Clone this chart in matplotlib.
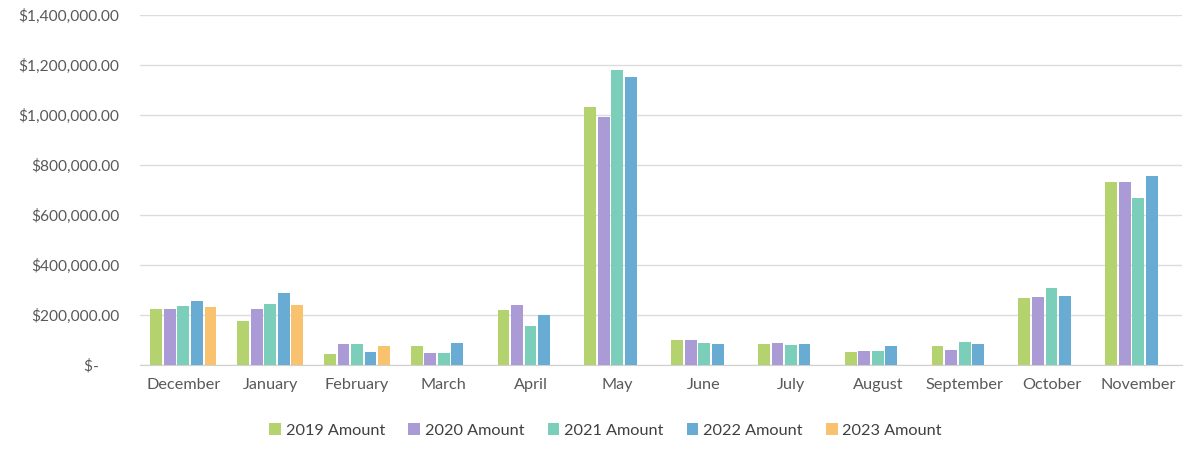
import numpy as np
import matplotlib
matplotlib.use("Agg")
import matplotlib.pyplot as plt
from matplotlib.ticker import FuncFormatter

months = ["December", "January", "February", "March", "April", "May",
          "June", "July", "August", "September", "October", "November"]

# values (estimates)
amt_2019 = [223000, 176000, 45000, 78000, 220000, 1030000, 102000, 83000, 52000, 75000, 270000, 730000]
amt_2020 = [223000, 223000, 86000, 47000, 240000, 990000, 102000, 90000, 57000, 61000, 273000, 730000]
amt_2021 = [237000, 243000, 86000, 47000, 156000, 1178000, 87000, 80000, 57000, 91000, 310000, 668000]
amt_2022 = [257000, 287000, 54000, 90000, 200000, 1152000, 84000, 83000, 75000, 86000, 275000, 757000]
amt_2023 = [234000, 239000, 77000, np.nan, np.nan, np.nan, np.nan, np.nan, np.nan, np.nan, np.nan, np.nan]

series = [("2019 Amount", amt_2019, "#b4d36e"),
          ("2020 Amount", amt_2020, "#aa9bd7"),
          ("2021 Amount", amt_2021, "#7bceb9"),
          ("2022 Amount", amt_2022, "#68acd3"),
          ("2023 Amount", amt_2023, "#f9c26e")]

plt.rcParams['font.family'] = ['Lato', 'DejaVu Sans']

fig = plt.figure(figsize=(11.96, 4.54), dpi=100)
ax = fig.add_axes([0.117, 0.196, 0.871, 0.771])

x = np.arange(len(months))
slot = 0.156
width = 0.136
for i, (name, vals, col) in enumerate(series):
    ax.bar(x + (i - 2) * slot, vals, width, color=col, label=name, zorder=3)

ax.set_ylim(0, 1400000)
ax.set_xlim(-0.5, len(months) - 0.5)
ax.set_yticks(np.arange(0, 1400001, 200000))

def money(v, pos):
    if v == 0:
        return "$-     "
    return "${:,.2f}".format(v)

ax.yaxis.set_major_formatter(FuncFormatter(money))
ax.set_xticks(x)
ax.set_xticklabels(months)
ax.tick_params(axis='both', length=0, colors='#595959', labelsize=11.7)
ax.tick_params(axis='x', pad=9)
ax.tick_params(axis='y', pad=15)
for lbl in ax.get_yticklabels():
    lbl.set_fontsize(11.2)

ax.grid(axis='y', color='#dcdcdc', linewidth=1, zorder=0)
for s in ['top', 'right', 'left']:
    ax.spines[s].set_visible(False)
ax.spines['bottom'].set_color('#d0d0d0')

ax.legend(loc='upper center', bbox_to_anchor=(0.447, -0.125), ncol=5,
          frameon=False, fontsize=11.7, handlelength=0.7, handleheight=0.7,
          handletextpad=0.3, columnspacing=1.45, labelcolor='#404040')

fig.savefig("out.png", dpi=100)
